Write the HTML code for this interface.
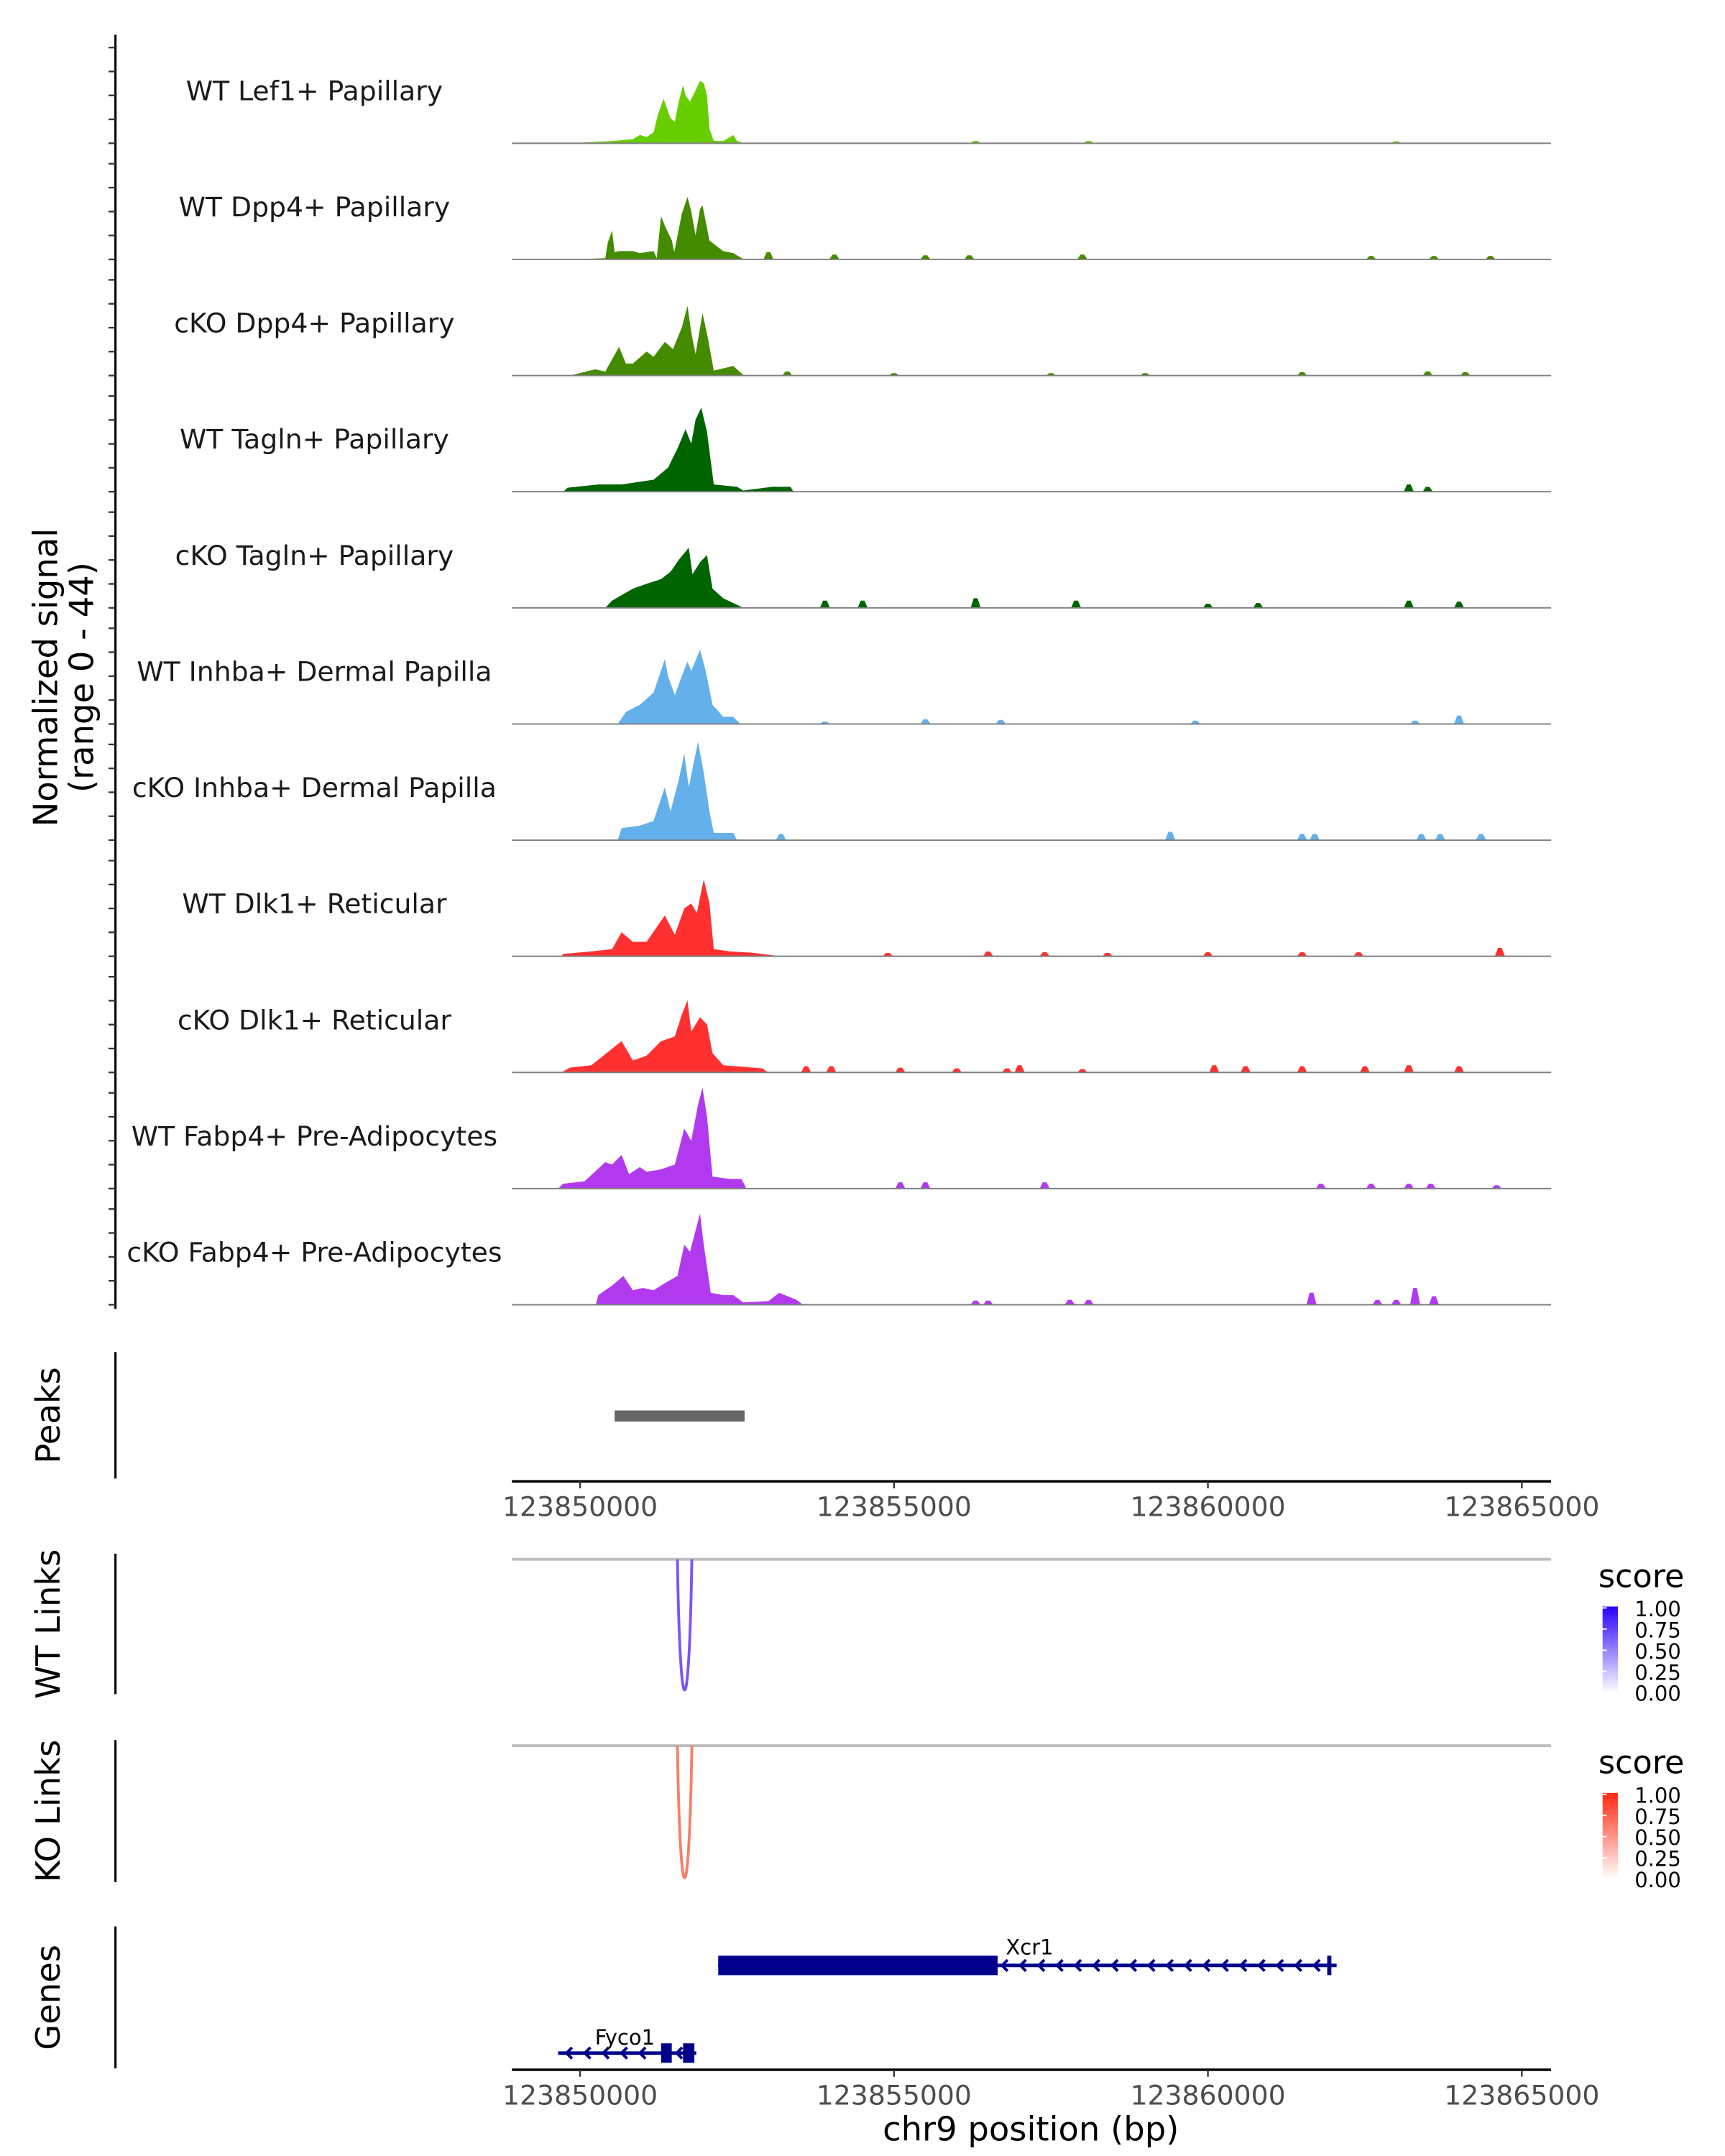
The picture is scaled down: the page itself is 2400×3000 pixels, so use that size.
<!DOCTYPE html>
<html><head><meta charset="utf-8"><style>
html,body{margin:0;padding:0;background:#fff;}
svg{display:block;font-family:"DejaVu Sans","Liberation Sans",sans-serif;}
</style></head><body>
<svg id="chart" width="2400" height="3000" viewBox="0 0 1240 1550" xmlns="http://www.w3.org/2000/svg">
<g id="tracks"></g>
<g id="rest"></g>
</svg>
<script>
const REGION_START = 123850000;
const trackNames = ["WT Lef1+ Papillary","WT Dpp4+ Papillary","cKO Dpp4+ Papillary","WT Tagln+ Papillary","cKO Tagln+ Papillary","WT Inhba+ Dermal Papilla","cKO Inhba+ Dermal Papilla","WT Dlk1+ Reticular","cKO Dlk1+ Reticular","WT Fabp4+ Pre-Adipocytes","cKO Fabp4+ Pre-Adipocytes"];
const trackColors = ["#66cd00","#458b00","#458b00","#006400","#006400","#63b0eb","#63b0eb","#ff3030","#ff3030","#b23aee","#b23aee"];
// signal points: [kb offset from 123850000, normalized value]
const sigLef1 = [[-0.16,0],[0.5,0.9],[0.84,1.7],[0.95,3.5],[1.06,2.6],[1.17,4.5],[1.24,12],[1.33,18.5],[1.37,15.6],[1.44,10.4],[1.51,9],[1.57,17.3],[1.64,24.2],[1.68,20],[1.75,17.3],[1.84,22],[1.91,26],[1.97,25],[2.02,20],[2.06,6],[2.13,1],[2.28,1],[2.39,2.6],[2.44,3.5],[2.5,1],[2.61,0]];
const sigDpp4WT = [[-0.16,0],[0.4,0.5],[0.44,7],[0.51,12],[0.55,3],[0.62,3.5],[0.84,3.5],[0.95,2.6],[1.17,3.5],[1.22,0.5],[1.29,18],[1.35,14],[1.46,8],[1.5,3],[1.62,19],[1.71,26],[1.77,20],[1.84,10],[1.91,21],[1.95,22.5],[2.06,7.8],[2.28,3.5],[2.44,2.6],[2.61,0]];
const sigDpp4KO = [[-0.16,0],[0.24,2.6],[0.4,1.7],[0.62,12],[0.73,5],[0.84,5],[1.06,10],[1.17,7.8],[1.35,14],[1.48,11],[1.62,20],[1.71,29],[1.77,18],[1.84,9],[1.95,26],[2.04,15],[2.13,2],[2.44,4],[2.61,0]];
const sigTaglnWT = [[-0.27,0],[-0.2,1.7],[0.29,3],[0.66,3],[1.17,5],[1.4,10],[1.55,18],[1.68,26],[1.77,20],[1.84,30],[1.93,35],[2.02,25],[2.13,3],[2.5,2],[2.6,0.5],[3.06,2],[3.35,2],[3.4,0]];
const sigTaglnKO = [[0.4,0],[0.51,3],[0.84,8],[1.06,10],[1.29,12],[1.44,15],[1.57,20],[1.73,25],[1.79,14],[1.91,19],[2.02,22],[2.11,8],[2.28,4],[2.6,0]];
const sigInhbaWT = [[0.6,0],[0.73,5],[0.95,8],[1.17,13],[1.35,27],[1.4,20],[1.51,12],[1.62,20],[1.71,26],[1.77,22],[1.91,31],[2.0,22],[2.11,8],[2.28,3],[2.44,3],[2.55,0]];
const sigInhbaKO = [[0.6,0],[0.66,5],[0.95,6],[1.17,8],[1.35,22],[1.44,12],[1.57,25],[1.66,36],[1.73,22],[1.88,41],[1.97,28],[2.06,12],[2.13,3],[2.44,3],[2.5,0]];
const sigDlk1WT = [[-0.3,0],[-0.27,1],[0.18,2],[0.51,3],[0.66,10],[0.84,6],[1.06,6],[1.35,17],[1.51,9],[1.66,20],[1.77,22],[1.86,18],[1.97,32],[2.06,22],[2.13,3],[2.39,2],[2.73,1.5],[3.2,0]];
const sigDlk1KO = [[-0.3,0],[-0.16,2],[0.18,3],[0.66,13],[0.84,5],[1.06,7],[1.29,13],[1.51,15],[1.62,24],[1.71,30],[1.77,17],[1.91,23],[2.02,20],[2.11,8],[2.28,3],[2.9,1.7],[3.0,0]];
const sigFabp4WT = [[-0.35,0],[-0.27,2],[0.07,3],[0.4,11],[0.51,10],[0.66,14],[0.78,6],[0.95,9],[1.06,7],[1.29,8],[1.51,10],[1.66,25],[1.77,20],[1.88,35],[1.95,42],[2.02,30],[2.11,5],[2.39,4],[2.57,4],[2.65,0]];
const sigFabp4KO = [[0.25,0],[0.29,4],[0.51,8],[0.69,12],[0.84,6],[1.0,7],[1.17,6],[1.35,9],[1.55,12],[1.66,25],[1.75,22],[1.91,38],[1.97,25],[2.08,5],[2.28,4],[2.44,4],[2.6,1],[3.0,1.5],[3.17,5],[3.45,2],[3.55,0]];
const signals = [sigLef1,sigDpp4WT,sigDpp4KO,sigTaglnWT,sigTaglnKO,sigInhbaWT,sigInhbaKO,sigDlk1WT,sigDlk1KO,sigFabp4WT,sigFabp4KO];
// small isolated blips: [kb, value]
const blipsLef1 = [[6.3,1],[8.1,1],[13.0,0.8]];
const blipsDpp4WT = [[3.0,3],[4.05,2],[5.5,1.7],[6.2,1.7],[8.0,2],[12.6,1.4],[13.6,1.4],[14.5,1.4]];
const blipsDpp4KO = [[3.3,1.7],[5.0,1],[7.5,1],[9.0,1],[11.5,1.4],[13.5,1.7],[14.1,1.4]];
const blipsTaglnWT = [[13.2,3],[13.5,2]];
const blipsTaglnKO = [[3.9,3],[4.5,3],[6.3,4],[7.9,3],[10.0,1.7],[10.8,2],[13.2,3],[14.0,2.6]];
const blipsInhbaWT = [[3.9,1],[5.5,2],[6.7,1.7],[9.8,1.4],[13.3,1.4],[14.0,3.5]];
const blipsInhbaKO = [[3.2,2.6],[9.4,3.5],[11.5,2.6],[11.7,2.6],[13.4,2.6],[13.7,2.6],[14.35,2.6]];
const blipsDlk1WT = [[4.9,1.4],[6.5,2],[7.4,1.7],[8.4,1.4],[10.0,1.7],[11.5,1.7],[12.4,1.7],[14.65,3.5]];
const blipsDlk1KO = [[3.6,2.6],[4.0,2.6],[5.1,2],[6.0,1.7],[6.8,1.7],[7.0,3],[8.0,1.4],[10.1,3],[10.6,2.6],[11.5,2.6],[12.5,2.6],[13.2,3],[14.0,2.6]];
const blipsFabp4WT = [[5.1,2.6],[5.5,2.6],[7.4,2.6],[11.8,2],[12.6,2],[13.2,2],[13.55,2],[14.6,1.4]];
const blipsFabp4KO = [[6.3,1.7],[6.5,1.7],[7.8,2],[8.1,2],[11.65,5],[12.7,2],[13.0,2],[13.3,7],[13.6,3.5]];
const blips = [blipsLef1,blipsDpp4WT,blipsDpp4KO,blipsTaglnWT,blipsTaglnKO,blipsInhbaWT,blipsInhbaKO,blipsDlk1WT,blipsDlk1KO,blipsFabp4WT,blipsFabp4KO];
const xTicks = [123850000,123855000,123860000,123865000];
const peakRanges = [[123850550,123852620]];
const wtLinks = [[123851550,123851780,0.55]];
const koLinks = [[123851550,123851780,0.55]];
const legendTicks = ["1.00","0.75","0.50","0.25","0.00"];
const geneNames = ["Xcr1","Fyco1"];
const geneStarts = [123852200,123849650];
const geneEnds = [123862050,123851850];
const geneThick = [[[123852200,123856650],[123861900,123861950]],[[123851290,123851460],[123851640,123851820]]];

const NS = "http://www.w3.org/2000/svg";
const X0 = 417, PX_PER_BP = 45.13/1000;
const xs = bp => X0 + (bp - REGION_START) * PX_PER_BP;
const xk = kb => X0 + kb * 45.13;
const PLOT_L = 368, PLOT_R = 1115;
const YMAX = 44, TRACK_H = 76;
const ys = (base, v) => base - Math.min(v, YMAX) / YMAX * TRACK_H;
function mk(tag, attrs, parent, text){ const e=document.createElementNS(NS,tag); for(const k in attrs) e.setAttribute(k,attrs[k]); if(text!==undefined) e.textContent=text; parent.appendChild(e); return e; }
const tg = document.getElementById('tracks');
const rg = document.getElementById('rest');
const BASE0 = 103, STEP = 83.5;

let ax = mk('line',{x1:83,y1:25,x2:83,y2:941,stroke:'#000','stroke-width':1.6},tg);
 
for(let i=0;i<trackNames.length;i++){
  const base = BASE0 + i*STEP;
  for(let k=0;k<5;k++){
    const t = mk('line',{x1:78,x2:83,y1:base-k*17.2,y2:base-k*17.2,stroke:'#333','stroke-width':1.2},tg);
     
  }
}
let yt = mk('text',{transform:'translate(41,487) rotate(-90)','text-anchor':'middle','font-size':24,fill:'#000'},tg);
 
mk('tspan',{x:0,dy:0},yt,'Normalized signal');
mk('tspan',{x:0,dy:26},yt,'(range 0 - 44)');

trackNames.forEach((name,i)=>{
  const base = BASE0 + i*STEP;
  const g = mk('g',{},tg);
  
  
  const lb = mk('text',{x:226,y:base-31,'text-anchor':'middle','font-size':19.5,fill:'#1a1a1a'},g,name);
   
  const pts = signals[i];
  let d = 'M'+xk(pts[0][0]).toFixed(1)+' '+base;
  pts.forEach(p=>{ d += ' L'+xk(p[0]).toFixed(1)+' '+ys(base,p[1]).toFixed(1); });
  d += ' L'+xk(pts[pts.length-1][0]).toFixed(1)+' '+base+' Z';
  const a = mk('path',{d:d,fill:trackColors[i]},g);
   
  blips[i].forEach(b=>{
    const bp = mk('path',{d:'M'+xk(b[0]-0.08)+' '+base+' L'+xk(b[0]-0.03)+' '+ys(base,b[1])+' L'+xk(b[0]+0.03)+' '+ys(base,b[1])+' L'+xk(b[0]+0.08)+' '+base+' Z',fill:trackColors[i]},g);
     
  });
  const bl = mk('line',{x1:PLOT_L,x2:PLOT_R,y1:base,y2:base,stroke:'#7f7f7f','stroke-width':1},g);
   
});

function sideAxis(y1,y2,title,name){
  const l = mk('line',{x1:83,x2:83,y1:y1,y2:y2,stroke:'#000','stroke-width':1.6},rg);
   
  const t = mk('text',{transform:'translate(43,'+((y1+y2)/2)+') rotate(-90)','text-anchor':'middle','font-size':24,fill:'#000'},rg,title);
   
}
function xAxis(y,name){
  const l = mk('line',{x1:PLOT_L,x2:PLOT_R,y1:y,y2:y,stroke:'#000','stroke-width':1.8},rg);
   
  xTicks.forEach(v=>{
    const t = mk('line',{x1:xs(v),x2:xs(v),y1:y,y2:y+5,stroke:'#333','stroke-width':1.2},rg);
     
    const tl = mk('text',{x:xs(v),y:y+25,'text-anchor':'middle','font-size':19.5,fill:'#4d4d4d'},rg,String(v));
     
  });
}
sideAxis(972,1063,'Peaks','peaks');
peakRanges.forEach(p=>{
  const r = mk('rect',{x:xs(p[0]),y:1014,width:xs(p[1])-xs(p[0]),height:8,fill:'#666'},rg);
   
});
xAxis(1065,'peaks-x-axis');

function linkTrack(y1,y2,title,name,links,color,gradId,c0,c1){
  sideAxis(y1,y2,title,name);
  const top = y1+4, bottom = y2-3;
  const gl = mk('line',{x1:PLOT_L,x2:PLOT_R,y1:top,y2:top,stroke:'#bebebe','stroke-width':2},rg);
   
  links.forEach(l=>{
    const a=xs(l[0]), b=xs(l[1]); const ctrl = top + (bottom-top)/0.75;
    const p = mk('path',{d:`M${a} ${top} C${a+2} ${ctrl} ${b-2} ${ctrl} ${b} ${top}`,fill:'none',stroke:color,'stroke-width':2},rg);
     
  });
  const lt = mk('text',{x:1149,y:y1+24,'font-size':23,fill:'#000'},rg,'score');
   
  const defs = mk('defs',{},rg);
  const gr = mk('linearGradient',{id:gradId,x1:0,y1:1,x2:0,y2:0},defs);
  mk('stop',{offset:0,'stop-color':c0},gr); mk('stop',{offset:1,'stop-color':c1},gr);
  const gy = y1+38;
  const bar = mk('rect',{x:1152,y:gy,width:11,height:62,fill:`url(#${gradId})`},rg);
   
  legendTicks.forEach((t,i)=>{
    const yy = gy+1+i*15.2;
    const tl = mk('text',{x:1175,y:yy+6,'font-size':15,fill:'#000'},rg,t);
     
    const tk = mk('line',{x1:1152,x2:1155,y1:yy,y2:yy,stroke:'#fff','stroke-width':1},rg);
     
  });
}
linkTrack(1117,1218,'WT Links','wt-links',wtLinks,'#7b55f3','gwt','#ffffff','#2a00ff');
linkTrack(1251,1353,'KO Links','ko-links',koLinks,'#f5806a','gko','#ffffff','#ff2a10');

sideAxis(1385,1487,'Genes','genes');
const geneY = [1413,1476], geneLabelY=[1405,1470];
geneNames.forEach((g,i)=>{
  const y = geneY[i];
  const ln = mk('line',{x1:xs(geneStarts[i]),x2:xs(geneEnds[i]),y1:y,y2:y,stroke:'#00008b','stroke-width':2.5},rg);
   
  geneThick[i].forEach(t=>{
    const w = Math.max(xs(t[1])-xs(t[0]),3);
    const r = mk('rect',{x:xs(t[0]),y:y-7,width:w,height:14,fill:'#00008b'},rg);
     
  });
  for(let x=xs(geneStarts[i])+6; x<xs(geneEnds[i])-4; x+=13.2){
    let inside=false; geneThick[i].forEach(t=>{ if(x>xs(t[0])-3 && x<xs(t[1])+3) inside=true; });
    if(inside) continue;
    const ar = mk('path',{d:`M${x+4} ${y-4} L${x} ${y} L${x+4} ${y+4}`,fill:'none',stroke:'#00008b','stroke-width':2},rg);
     
  }
  const lx = i===0 ? xs(geneThick[0][0][1])+23 : xs(geneStarts[1])+48;
  const lb = mk('text',{x:lx,y:geneLabelY[i],'text-anchor':'middle','font-size':15,fill:'#000'},rg,g);
   
});
xAxis(1488,'genes-x-axis');
const xt = mk('text',{x:741,y:1539,'text-anchor':'middle','font-size':24,fill:'#000'},rg,'chr9 position (bp)');
 
</script>
</body></html>
